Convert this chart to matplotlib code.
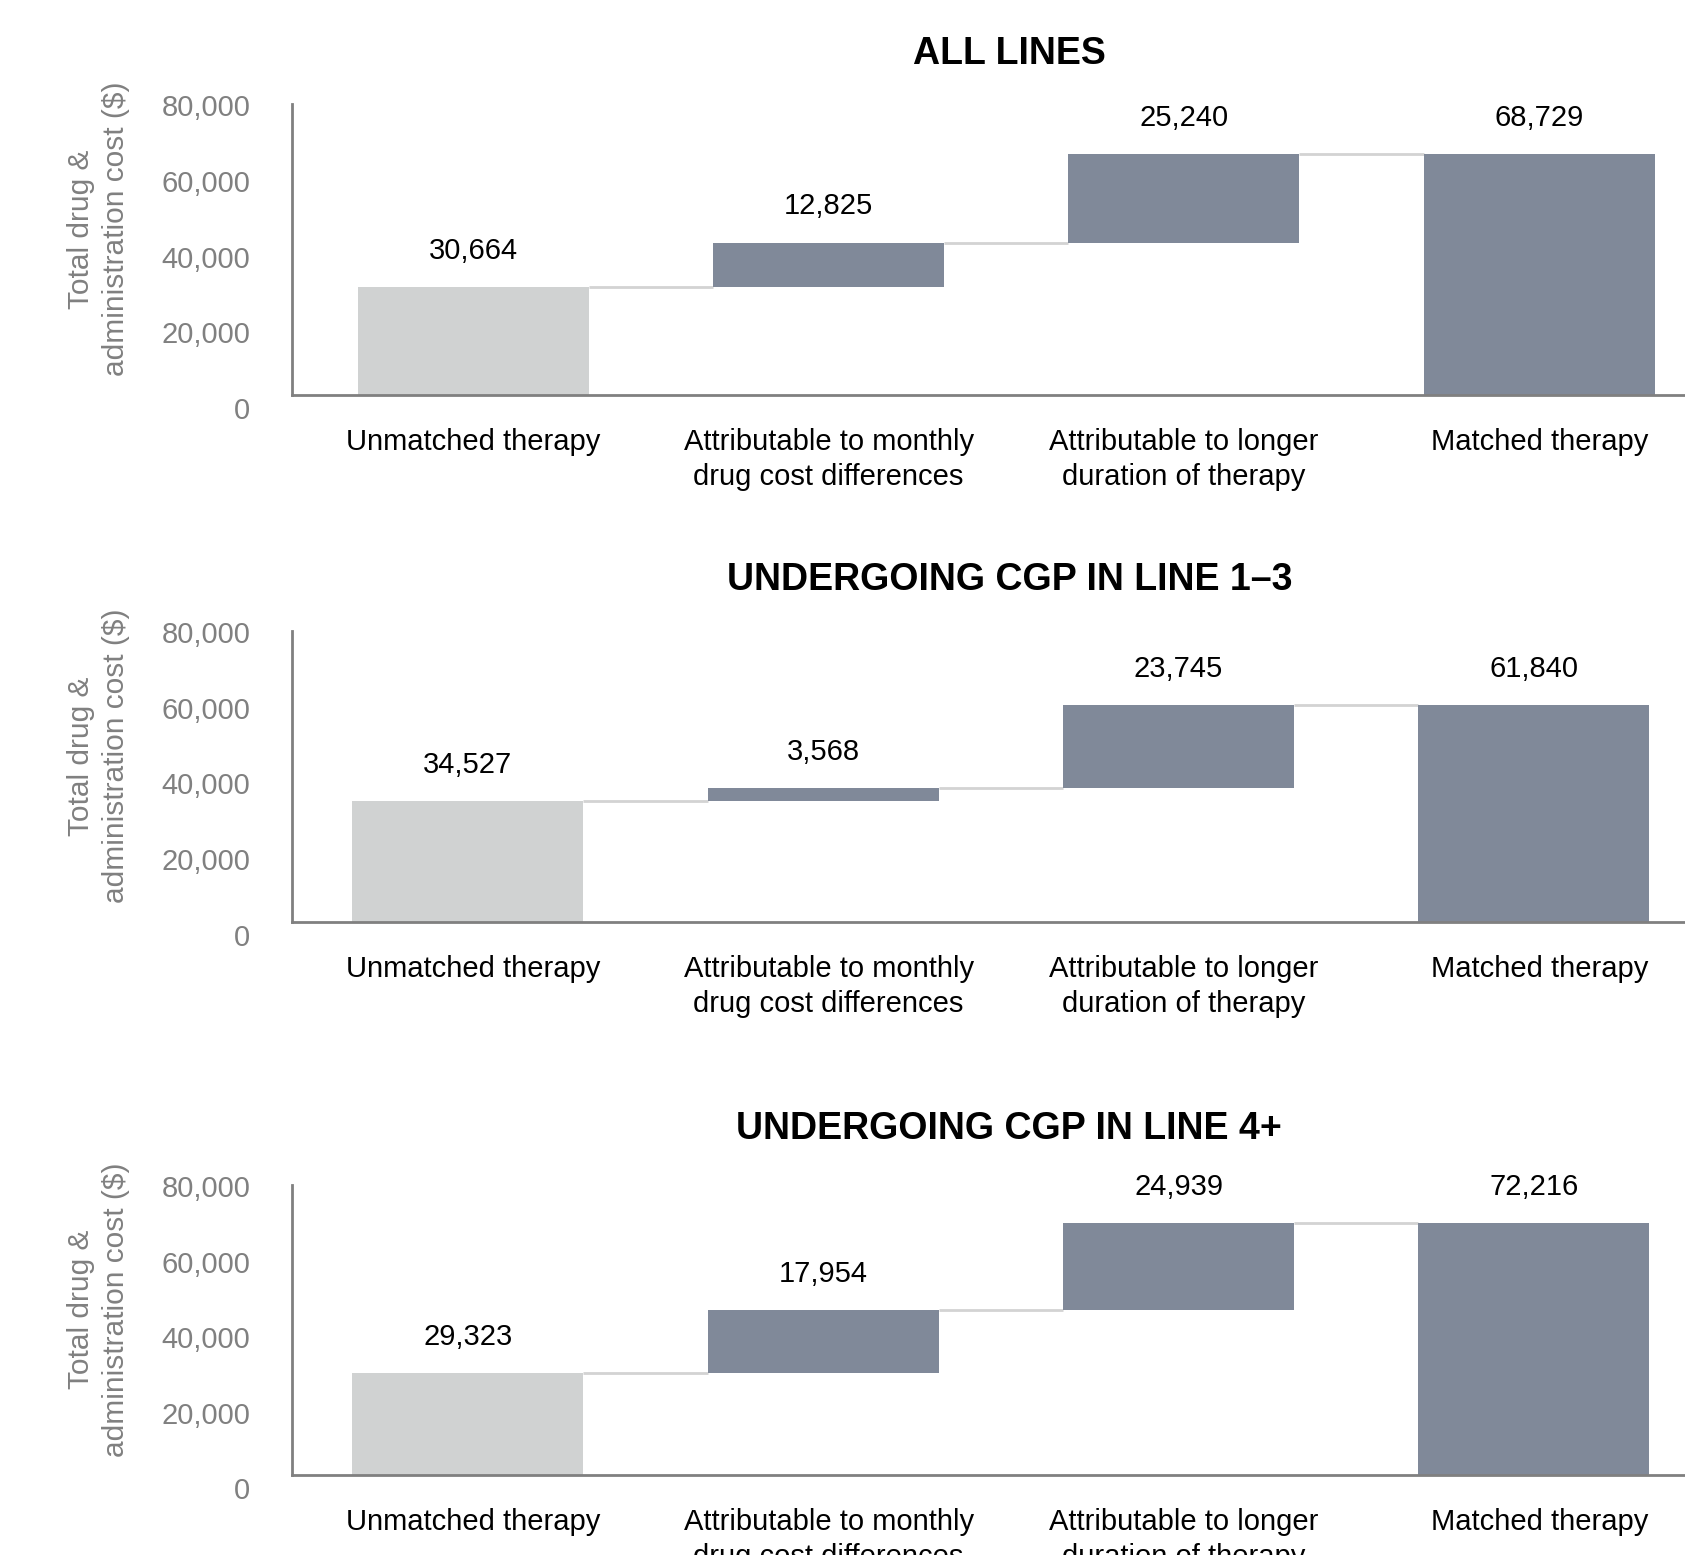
import matplotlib
matplotlib.use("Agg")
import matplotlib.pyplot as plt
from matplotlib.transforms import ScaledTranslation

# data
categories = ["Unmatched therapy",
              "Attributable to monthly\ndrug cost differences",
              "Attributable to longer\nduration of therapy",
              "Matched therapy"]
panel_titles = ["ALL LINES", "UNDERGOING CGP IN LINE 1\u20133", "UNDERGOING CGP IN LINE 4+"]
all_lines = [30664, 12825, 25240, 68729]
line_1_3 = [34527, 3568, 23745, 61840]
line_4_plus = [29323, 17954, 24939, 72216]
y_ticks = [0, 20000, 40000, 60000, 80000]

panels = [all_lines, line_1_3, line_4_plus]

light = "#D0D2D2"
slate = "#808999"
axis_grey = "#808080"
font = ["Liberation Sans", "DejaVu Sans"]

fig = plt.figure(figsize=(16.85, 15.55), dpi=100)

# axes boxes (left, bottom, width, height) in figure fraction
boxes = [(0.1733, 0.7460, 0.8267, 0.1871),
         (0.1733, 0.4071, 0.8267, 0.1871),
         (0.1733, 0.0514, 0.8267, 0.1865)]
title_y = [0.965, 0.627, 0.274]
x_shift = [0.0, 0.015, 0.015]

width = 0.65
for k in range(3):
    vals = panels[k]
    ax = fig.add_axes(boxes[k])
    bottoms = [0, vals[0], vals[0] + vals[1], 0]
    heights = [vals[0], vals[1], vals[2], vals[3]]
    colors = [light, slate, slate, slate]
    x = list(range(len(categories)))
    ax.bar(x, heights, width, bottom=bottoms, color=colors, zorder=2)

    # connector lines between bars
    tops = [bottoms[i] + heights[i] for i in range(4)]
    for i in range(3):
        ax.plot([x[i] + width / 2, x[i + 1] - width / 2], [tops[i], tops[i]],
                color="#D3D3D3", lw=2, zorder=1, solid_capstyle="butt")

    for i in range(4):
        ax.annotate(format(vals[i], ","), (x[i], tops[i]), xytext=(0, 26),
                    textcoords="offset points", ha="center", va="center",
                    fontsize=21, family=font, color="black")

    ax.set_xlim(-0.51 + x_shift[k], 3.41 + x_shift[k])
    ax.set_ylim(0, 83000)
    ax.set_yticks(y_ticks)
    ax.set_yticklabels([format(t, ",") for t in y_ticks], family=font,
                       fontsize=21, color=axis_grey)
    ax.set_xticks(x)
    ax.set_xticklabels(categories, family=font, fontsize=21, color="black",
                       linespacing=1.32)
    ax.tick_params(axis="y", length=0, pad=30)
    ax.tick_params(axis="x", length=0, pad=24)

    # the value labels in the original are spread a bit wider than the axis
    for t, lab in zip(y_ticks, ax.get_yticklabels()):
        dy = 13 - 22.5 * t / 80000.0
        lab.set_transform(lab.get_transform() +
                          ScaledTranslation(0, -dy / 100.0, fig.dpi_scale_trans))
    # category labels stay put while the bars move a little in panels 2 and 3
    dx = x_shift[k] * 355 / 100.0
    for lab in ax.get_xticklabels():
        lab.set_transform(lab.get_transform() +
                          ScaledTranslation(dx, 0, fig.dpi_scale_trans))

    for s in ["top", "right"]:
        ax.spines[s].set_visible(False)
    for s in ["left", "bottom"]:
        ax.spines[s].set_color(axis_grey)
        ax.spines[s].set_linewidth(2)

    ax.set_ylabel("Total drug &\nadministration cost ($)", fontsize=21.5,
                  family=font, color=axis_grey, linespacing=1.35, va="center")
    ax.yaxis.set_label_coords(-0.139, 0.57)

    fig.text(0.599, title_y[k], panel_titles[k], ha="center", va="center",
             fontsize=27, fontweight="bold", family=font)

fig.savefig("out.png", dpi=100)
